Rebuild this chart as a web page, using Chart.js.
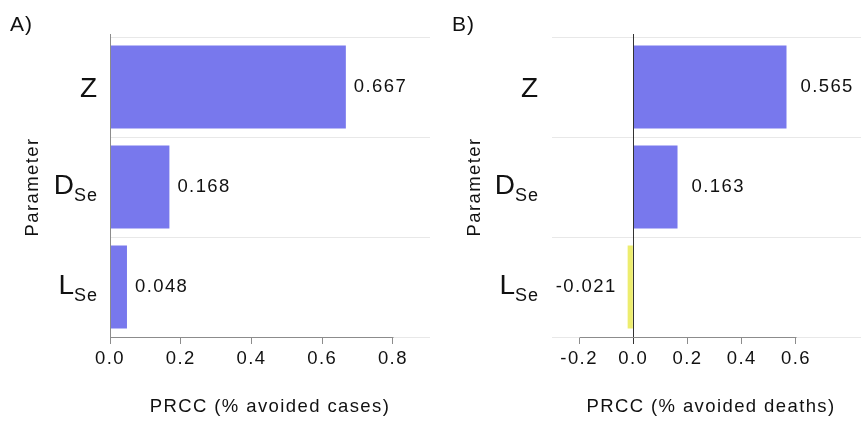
<!DOCTYPE html>
<html><head><meta charset="utf-8">
<script src="https://cdn.jsdelivr.net/npm/chart.js@4"></script>
<style>
html,body{margin:0;padding:0;background:#fff;overflow:hidden;width:861px;height:421px;position:relative}
#a{position:absolute;left:0;top:0;width:430px;height:421px}
#b{position:absolute;left:430px;top:0;width:440px;height:421px}
</style></head><body>
<div id="a"><canvas id="ca" width="430" height="421"></canvas></div>
<div id="b"><canvas id="cb" width="440" height="421"></canvas></div>
<script>
// ---- data ----
const parameters = ['Z', 'D_Se', 'L_Se'];
const prccCases  = [0.667, 0.168, 0.048];
const prccDeaths = [0.565, 0.163, -0.021];
const ticksCases  = [0, 0.2, 0.4, 0.6, 0.8];
const ticksDeaths = [-0.2, 0, 0.2, 0.4, 0.6];
const titleCases  = 'PRCC (% avoided cases)';
const titleDeaths = 'PRCC (% avoided deaths)';
const yTitle = 'Parameter';

const FONT = '"Liberation Sans", Arial, sans-serif';
const FS = 18.5;
const SPACING = '1.4px';
const BLUE = '#7878ED';
const YELLOW = '#EDED6E';
const AXIS = '#8c8c8c';

function makeChart(canvasId, cfg) {
  const plugin = {
    id: 'deco' + cfg.letter,
    beforeDraw(chart) { chart.ctx.letterSpacing = SPACING; },
    afterDraw(chart) {
      const {ctx, chartArea: ca, scales: {x, y}} = chart;
      ctx.save();
      ctx.letterSpacing = SPACING;
      // zero line
      const x0 = Math.round(x.getPixelForValue(0)) + 0.5;
      ctx.strokeStyle = cfg.zeroColor; ctx.lineWidth = 1;
      ctx.beginPath(); ctx.moveTo(x0, ca.top - 3); ctx.lineTo(x0, ca.bottom + 7); ctx.stroke();
      // partial x axis line
      const yb = Math.round(ca.bottom) + 0.5;
      ctx.strokeStyle = AXIS;
      ctx.beginPath();
      ctx.moveTo(Math.round(x.getPixelForValue(cfg.ticks[0])) + 0.5, yb);
      ctx.lineTo(Math.round(x.getPixelForValue(cfg.ticks[cfg.ticks.length - 1])) + 0.5, yb);
      ctx.stroke();
      // value labels
      const meta = chart.getDatasetMeta(0);
      ctx.font = FS + 'px ' + FONT; ctx.fillStyle = '#111'; ctx.textBaseline = 'middle';
      meta.data.forEach((bar, i) => {
        const v = cfg.values[i];
        const txt = v.toFixed(3);
        if (v >= 0) { ctx.textAlign = 'left'; ctx.fillText(txt, bar.x + cfg.labelOffset, bar.y); }
        else { ctx.textAlign = 'right'; ctx.fillText(txt, bar.x - 11, bar.y); }
      });
      // y category labels with subscripts
      const rightX = ca.left - cfg.yLabelGap;
      parameters.forEach((lab, i) => {
        const cy = y.getPixelForValue(i);
        const parts = lab.split('_');
        const main = parts[0], sub = parts[1] || '';
        ctx.textAlign = 'left'; ctx.textBaseline = 'alphabetic'; ctx.fillStyle = '#111';
        ctx.letterSpacing = '0px';
        ctx.font = '28px ' + FONT;
        const wm = ctx.measureText(main).width;
        ctx.font = '18px ' + FONT;
        ctx.letterSpacing = '1px';
        const ws = sub ? ctx.measureText(sub).width - 1 : 0;
        const base = sub ? cy + 6.5 : cy + 10;
        const startX = rightX - wm - ws;
        ctx.letterSpacing = '0px';
        ctx.font = '28px ' + FONT;
        ctx.fillText(main, startX, base);
        if (sub) { ctx.letterSpacing = '1px'; ctx.font = '18px ' + FONT; ctx.fillText(sub, startX + wm, base + 7); }
      });
      // panel letter
      ctx.letterSpacing = '1px';
      ctx.font = '21px ' + FONT; ctx.textAlign = 'left'; ctx.textBaseline = 'alphabetic'; ctx.fillStyle = '#111';
      ctx.fillText(cfg.letter + ')', cfg.letterX, 31);
      ctx.restore();
    }
  };
  return new Chart(document.getElementById(canvasId), {
    type: 'bar',
    data: {
      labels: parameters,
      datasets: [{
        data: cfg.values,
        backgroundColor: cfg.values.map(v => v >= 0 ? BLUE : YELLOW),
        borderWidth: 0,
        barPercentage: 0.83,
        categoryPercentage: 1.0
      }]
    },
    plugins: [plugin],
    options: {
      indexAxis: 'y',
      responsive: false,
      animation: false,
      devicePixelRatio: 1,
      layout: {padding: {top: 37, right: 0, bottom: 0, left: 0}},
      plugins: {legend: {display: false}, tooltip: {enabled: false}},
      scales: {
        x: {
          type: 'linear', min: cfg.min, max: cfg.max,
          afterBuildTicks: s => { s.ticks = cfg.ticks.map(v => ({value: v})); },
          afterFit: s => { s.height = 84; },
          grid: {drawOnChartArea: false, drawTicks: true, tickLength: 7, color: AXIS},
          border: {display: false},
          ticks: {font: {family: FONT, size: FS}, color: '#111', padding: 4,
                  callback: v => v.toFixed(1)},
          title: {display: true, text: cfg.title, font: {family: FONT, size: FS}, color: '#111',
                  padding: {top: 0, bottom: 3}}
        },
        y: {
          type: 'category', offset: true,
          afterFit: s => { s.width = cfg.yWidth; },
          grid: {offset: true, color: '#e8e8e8', drawTicks: false},
          border: {display: false},
          ticks: {display: false},
          title: {display: true, text: yTitle, font: {family: FONT, size: FS}, color: '#111',
                  padding: {top: cfg.yTitlePad, bottom: 0}}
        }
      }
    }
  });
}

makeChart('ca', {letter: 'A', letterX: 10, values: prccCases, ticks: ticksCases, min: 0, max: 0.905,
  title: titleCases, yWidth: 110, yTitlePad: 22, yLabelGap: 13, labelOffset: 8, zeroColor: AXIS});
makeChart('cb', {letter: 'B', letterX: 22, values: prccDeaths, ticks: ticksDeaths, min: -0.3, max: 0.873,
  title: titleDeaths, yWidth: 122, yTitlePad: 34, yLabelGap: 14, labelOffset: 14, zeroColor: '#333'});
</script>
</body></html>
